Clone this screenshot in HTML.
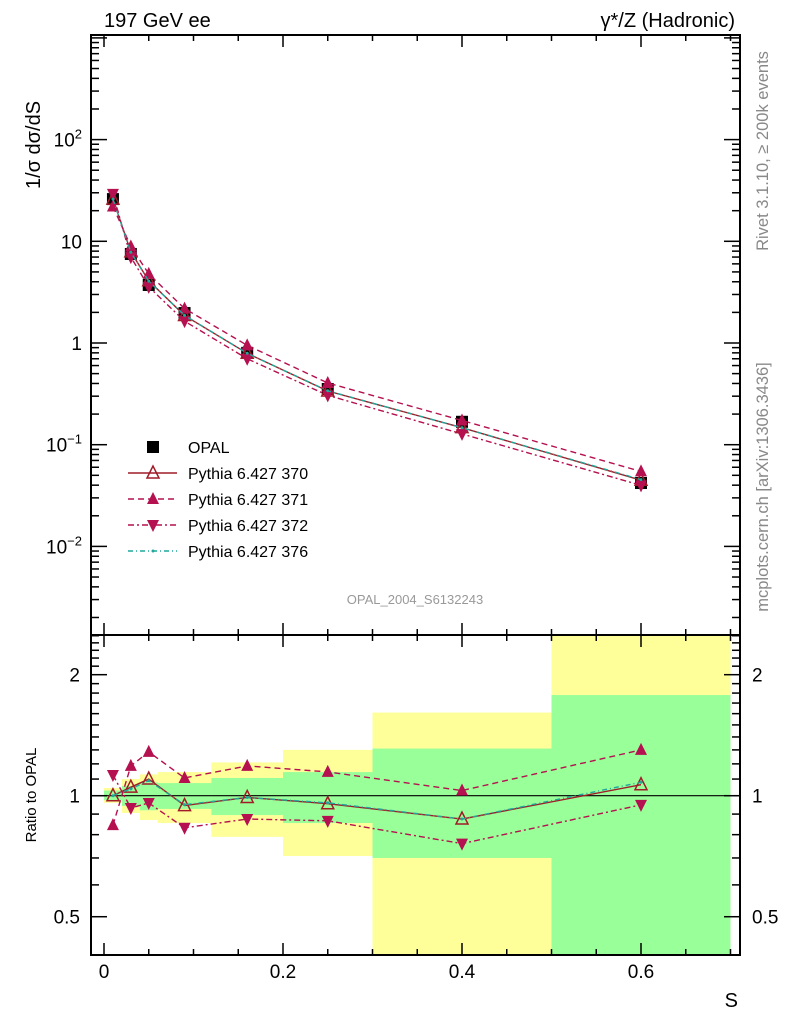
<!DOCTYPE html>
<html><head><meta charset="utf-8"><style>
body{margin:0;background:#fff;}
svg text{font-family:"Liberation Sans",sans-serif;}
</style></head><body>
<svg id="c" width="786" height="1024" xmlns="http://www.w3.org/2000/svg"></svg>
<script>
const xs=[0.01,0.03,0.05,0.09,0.16,0.25,0.4,0.6];
const binLo=[0,0.02,0.04,0.06,0.12,0.2,0.3,0.5];
const binHi=[0.02,0.04,0.06,0.12,0.2,0.3,0.5,0.7];
const opal=[26,7.5,3.72,1.97,0.80,0.353,0.168,0.042];
const r370=[1.0,1.05,1.10,0.945,0.99,0.955,0.875,1.065];
const r371=[0.845,1.186,1.285,1.107,1.186,1.146,1.03,1.30];
const r372=[1.126,0.932,0.959,0.832,0.875,0.866,0.76,0.949];
const r376=[1.0,1.04,1.09,0.95,0.99,0.96,0.875,1.08];
const yelLo=[0.96,0.906,0.87,0.855,0.79,0.708,0.3,0.3];
const yelHi=[1.045,1.10,1.13,1.145,1.21,1.30,1.61,3];
const grnLo=[0.975,0.943,0.92,0.927,0.895,0.855,0.70,0.3];
const grnHi=[1.03,1.057,1.08,1.075,1.107,1.145,1.31,1.78];
const yTickVals=[0.01,0.1,1,10,100];
const yTickLabels=["10^-2","10^-1","1","10","10^2"];
const rTickVals=[0.5,1,2];
const rTickLabels=["0.5","1","2"];
const xTickVals=[0,0.2,0.4,0.6];
const xTickLabels=["0","0.2","0.4","0.6"];

const NS="http://www.w3.org/2000/svg";
const svg=document.getElementById('c');
const L=91,R=740,T=35,M=635,B=955;
const X=v=>104+v*895;
const Y=v=>343-101.7*Math.log10(v);
const RY=v=>795.7-402*Math.log10(v);
function el(t,a,p){const e=document.createElementNS(NS,t);for(const k in a)e.setAttribute(k,a[k]);(p||svg).appendChild(e);return e;}
const defs=el('defs',{});
const cp=el('clipPath',{id:'cr'},defs);el('rect',{x:L,y:M,width:R-L,height:B-M},cp);
const cm=el('clipPath',{id:'cm'},defs);el('rect',{x:L,y:T,width:R-L,height:M-T},cm);

const bands=el('g',{'clip-path':'url(#cr)'});


for(let i=0;i<binLo.length;i++){
  const y1=el('rect',{x:X(binLo[i]),y:RY(yelHi[i]),width:X(binHi[i])-X(binLo[i]),height:RY(yelLo[i])-RY(yelHi[i]),fill:'#ffff99'},bands);
  
  
}
for(let i=0;i<binLo.length;i++){
  const g1=el('rect',{x:X(binLo[i]),y:RY(grnHi[i]),width:X(binHi[i])-X(binLo[i]),height:RY(grnLo[i])-RY(grnHi[i]),fill:'#99ff99'},bands);
  
  
}
el('line',{x1:L,x2:R,y1:RY(1),y2:RY(1),stroke:'#000','stroke-width':1.2},bands);

el('rect',{x:L,y:T,width:R-L,height:M-T,fill:'none',stroke:'#000','stroke-width':2});
el('rect',{x:L,y:M,width:R-L,height:B-M,fill:'none',stroke:'#000','stroke-width':2});

function ticksX(y0,dir){
  for(let v=0;v<=0.7001;v+=0.05){const maj=Math.abs(v*10-Math.round(v*10))<1e-6&&Math.round(v*10)%2==0;
    el('line',{x1:X(v),x2:X(v),y1:y0,y2:y0+dir*(maj?12:6),stroke:'#000','stroke-width':1.5});}
}
ticksX(M,-1);ticksX(B,-1);ticksX(T,1);ticksX(M,1);
for(let e=-3;e<=3;e++)for(let m=1;m<10;m++){const v=m*Math.pow(10,e);const y=Y(v);if(y<T||y>M)continue;
  const len=m==1?16:8;
  el('line',{x1:L,x2:L+len,y1:y,y2:y,stroke:'#000','stroke-width':1.5});
  el('line',{x1:R,x2:R-len,y1:y,y2:y,stroke:'#000','stroke-width':1.5});}
const rt=[0.4,0.5,0.6,0.7,0.8,0.9,1,1.1,1.2,1.3,1.4,1.5,1.6,1.7,1.8,1.9,2,2.1,2.2,2.3,2.4,2.5];
rt.forEach(v=>{const y=RY(v);if(y<M||y>B)return;const len=(v==0.5||v==1||v==2)?16:8;
  el('line',{x1:L,x2:L+len,y1:y,y2:y,stroke:'#000','stroke-width':1.5});
  el('line',{x1:R,x2:R-len,y1:y,y2:y,stroke:'#000','stroke-width':1.5});});

function txt(s,a,name){const t=el('text',a);t.textContent=s;return t;}
yTickVals.forEach((v,i)=>{const lab=yTickLabels[i];const y=Y(v)+7;
  const t=el('text',{x:82,y:y,'text-anchor':'end','font-size':19});
  
  if(lab.includes('^')){const [b,p]=lab.split('^');t.textContent=b;const ts=el('tspan',{dy:-8,'font-size':13},t);ts.textContent=p.replace('-','\u2212');}
  else t.textContent=lab;});
rTickVals.forEach((v,i)=>{txt(rTickLabels[i],{x:80,y:RY(v)+7,'text-anchor':'end','font-size':19},'ratio-tick-label-left');
  txt(rTickLabels[i],{x:752,y:RY(v)+7,'font-size':19},'ratio-tick-label-right');});
xTickVals.forEach((v,i)=>txt(xTickLabels[i],{x:X(v),y:978,'text-anchor':'middle','font-size':19},'x-tick-label'));
txt('S',{x:738,y:1007,'text-anchor':'end','font-size':20},'x-axis-title');
txt('197 GeV ee',{x:104,y:27,'font-size':20},'title-left');
txt('\u03b3*/Z (Hadronic)',{x:735,y:27,'text-anchor':'end','font-size':20},'title-right');
txt('1/\u03c3 d\u03c3/dS',{x:0,y:0,transform:'translate(40,145) rotate(-90)','text-anchor':'middle','font-size':20},'y-axis-title');
txt('Ratio to OPAL',{x:0,y:0,transform:'translate(36,795) rotate(-90)','text-anchor':'middle','font-size':15},'ratio-axis-title');
txt('Rivet 3.1.10, \u2265 200k events',{x:0,y:0,transform:'translate(768,151) rotate(-90)','text-anchor':'middle','font-size':16.5,fill:'#888'},'rivet-label');
txt('mcplots.cern.ch [arXiv:1306.3436]',{x:0,y:0,transform:'translate(768,487) rotate(-90)','text-anchor':'middle','font-size':16.5,fill:'#888'},'mcplots-label');
txt('OPAL_2004_S6132243',{x:415,y:604,'text-anchor':'middle','font-size':13,fill:'#999'},'analysis-id');

function marker(g,type,x,y,col,s){
  s=s||6;
  if(type=='sq')return el('rect',{x:x-s,y:y-s,width:2*s,height:2*s,fill:'#000'},g);
  if(type=='up')return el('polygon',{points:`${x},${y-s-1} ${x-s},${y+s-1} ${x+s},${y+s-1}`,fill:col},g);
  if(type=='open')return el('polygon',{points:`${x},${y-s-1} ${x-s},${y+s-1} ${x+s},${y+s-1}`,fill:'none',stroke:col,'stroke-width':1.5},g);
  if(type=='down')return el('polygon',{points:`${x},${y+s+1} ${x-s},${y-s+1} ${x+s},${y-s+1}`,fill:col},g);
  if(type=='dot')return el('circle',{cx:x,cy:y,r:1.5,fill:col},g);
}
const series=[
 {name:'370',r:r370,col:'#a01c28',dash:'',type:'open'},
 {name:'371',r:r371,col:'#b5104f',dash:'6,4',type:'up'},
 {name:'372',r:r372,col:'#b5104f',dash:'6,3,2,3',type:'down'},
 {name:'376',r:r376,col:'#1fa89a',dash:'5,3,1,3',type:'dot'}];
function drawSeries(s,main){
  const g=el('g',{'clip-path':main?'url(#cm)':'url(#cr)'});
  
  
  const pts=xs.map((x,i)=>[X(x),main?Y(s.r[i]*opal[i]):RY(s.r[i])]);
  el('polyline',{points:pts.map(p=>p.join(',')).join(' '),fill:'none',stroke:s.col,'stroke-width':1.4,'stroke-dasharray':s.dash},g);
  pts.forEach(p=>marker(g,s.type,p[0],p[1],s.col));
}
const og=el('g',{'clip-path':'url(#cm)'});


xs.forEach((x,i)=>marker(og,'sq',X(x),Y(opal[i]),'#000',6));
series.forEach(s=>drawSeries(s,true));
series.forEach(s=>drawSeries(s,false));

const lg=el('g',{});


const labels=['OPAL','Pythia 6.427 370','Pythia 6.427 371','Pythia 6.427 372','Pythia 6.427 376'];
labels.forEach((l,i)=>{const y=447+26*i;
  const e=el('g',{},lg);
  
  
  if(i==0)marker(e,'sq',153,y,'#000',6);
  else{const s=series[i-1];el('line',{x1:128,x2:177,y1:y,y2:y,stroke:s.col,'stroke-width':1.4,'stroke-dasharray':s.dash},e);marker(e,s.type,153,y,s.col);}
  const t=el('text',{x:188,y:y+6,'font-size':16},e);t.textContent=l;});
</script>
</body></html>
